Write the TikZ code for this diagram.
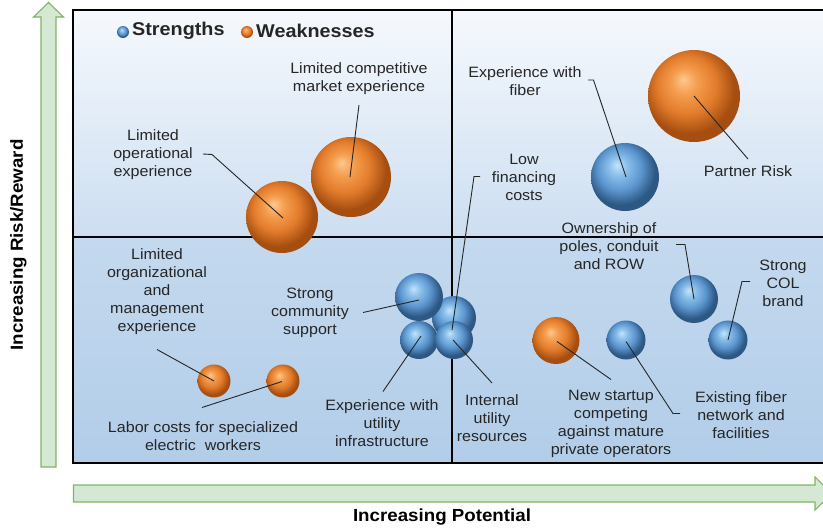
\documentclass[tikz,border=0pt]{standalone}
\usepackage{fontspec}
\setmainfont{Liberation Sans}[FakeStretch=1.07]
\usetikzlibrary{calc}
\definecolor{oHi}{HTML}{FDC88F}
\definecolor{oMid}{HTML}{F59D4E}
\definecolor{oBase}{HTML}{E27C2C}
\definecolor{oEdge}{HTML}{A64E10}
\definecolor{bHi}{HTML}{C3E3FA}
\definecolor{bMid}{HTML}{8ABFE9}
\definecolor{bBase}{HTML}{5C96CF}
\definecolor{bEdge}{HTML}{2D5884}
\definecolor{arrFill}{HTML}{D5E8D4}
\definecolor{arrLine}{HTML}{82B366}
\definecolor{txt}{HTML}{262626}
\definecolor{bgTop}{HTML}{F6F9FD}
\definecolor{bgMid}{HTML}{CCDEF1}
\definecolor{bgMidB}{HTML}{C4D9EE}
\definecolor{bgBot}{HTML}{B2CDE9}
\pgfdeclareradialshading{ballO}{\pgfpoint{-6bp}{9bp}}{color(0bp)=(oHi); color(7bp)=(oMid); color(16bp)=(oBase); color(25bp)=(oEdge); color(50bp)=(oEdge)}
\pgfdeclareradialshading{ballB}{\pgfpoint{-6bp}{9bp}}{color(0bp)=(bHi); color(7bp)=(bMid); color(16bp)=(bBase); color(25bp)=(bEdge); color(50bp)=(bEdge)}
\tikzset{
  sph/.style={circle, inner sep=0pt, minimum size=#1, shade},
  orb/.style={sph=#1, shading=ballO},
  blb/.style={sph=#1, shading=ballB},
  lbl/.style={align=center, text=txt, inner sep=0pt, font=\fontsize{15}{18}\selectfont},
  lead/.style={draw=txt, line width=0.9pt},
  axis/.style={font=\fontsize{17.5}{20}\selectfont\bfseries, text=black, inner sep=0pt},
  legtxt/.style={font=\fontsize{18.5}{21}\selectfont\bfseries, text=txt, inner sep=0pt},
  arrowshape/.style={fill=arrFill, draw=arrLine, line width=1.1pt},
  frame/.style={draw=black, line width=1.8pt}
}
\begin{document}
\begin{tikzpicture}[x=1pt,y=-1pt]
\useasboundingbox (0,0) rectangle (823,531);
\clip (0,0) rectangle (823,531);
% background
\shade[top color=bgTop, bottom color=bgMid] (73,10) rectangle (824,237);
\shade[top color=bgMidB, bottom color=bgBot] (73,237) rectangle (824,463);
\draw[frame] (73,10) rectangle (824,463);
\draw[frame] (73,237) -- (824,237);
\draw[frame] (452,10) -- (452,463);
% axis arrows
\draw[arrowshape] (41,467) -- (41,17) -- (33.5,17) -- (48.5,2.5) -- (63.5,17) -- (56,17) -- (56,467) -- cycle;
\draw[arrowshape] (73.5,485) -- (815,485) -- (815,477) -- (832,493.5) -- (815,510) -- (815,502) -- (73.5,502) -- cycle;
\node[axis, rotate=90] (ylab) at (18.5,245) {Increasing Risk/Reward};
\node[axis] (xlab) at (442,517) {Increasing Potential};
% legend
\node[blb=12pt] (legS) at (123,32) {};
\node[legtxt, anchor=west] (legSt) at (132,31) {Strengths};
\node[orb=12pt] (legW) at (247,32) {};
\node[legtxt, anchor=west] (legWt) at (256,31) {Weaknesses};
% spheres
\node[orb=72pt] (opx) at (282,217) {};
\node[orb=80pt] (cmp) at (351,177) {};
\node[orb=92pt] (prt) at (694,96) {};
\node[blb=68pt] (fib) at (625,177) {};
\node[blb=48pt] (own) at (694,299) {};
\node[blb=39pt] (col) at (728,340) {};
\node[blb=39pt] (exf) at (626,340) {};
\node[orb=47pt] (nst) at (556,340.5) {};
\node[blb=44pt] (lfc) at (454,318) {};
\node[blb=48pt] (scs) at (419,297) {};
\node[blb=38pt] (eui) at (419,340) {};
\node[blb=38pt] (iur) at (454,340) {};
\node[orb=33pt] (lom) at (214,381) {};
\node[orb=33pt] (lab) at (283,381) {};
% labels
\node[lbl] (tcmp) at (359,79) {Limited competitive\\market experience};
\node[lbl] (topx) at (153,155) {Limited\\operational\\experience};
\node[lbl] (tfib) at (525,81) {Experience with\\fiber};
\node[lbl] (tlfc) at (524,177) {Low\\financing\\costs};
\node[lbl] (tprt) at (748,171) {Partner Risk};
\node[lbl] (town) at (609,246) {Ownership of\\poles, conduit\\and ROW};
\node[lbl] (tcol) at (783,283) {Strong\\COL\\brand};
\node[lbl] (texf) at (741,415) {Existing fiber\\network and\\facilities};
\node[lbl] (tnst) at (611,423.5) {New startup\\competing\\against mature\\private operators};
\node[lbl] (tiur) at (492,418) {Internal\\utility\\resources};
\node[lbl] (teui) at (382,423) {Experience with\\utility\\infrastructure};
\node[lbl] (tscs) at (310,313) {Strong\\community\\support};
\node[lbl] (tlom) at (157,292) {Limited\\organizational\\and\\management\\experience};
\node[lbl] (tlab) at (203,436) {Labor costs for specialized\\electric\ \ workers};
% leader coordinates
\coordinate (a1) at (203,154); \coordinate (a2) at (212,154.5);
\coordinate (b1) at (359,105);
\coordinate (c1) at (588,80); \coordinate (c2) at (593.5,80);
\coordinate (d1) at (748,159);
\coordinate (e1) at (480,176.5); \coordinate (e2) at (474,176.5);
\coordinate (f1) at (676,244.5); \coordinate (f2) at (685,244.5);
\coordinate (g1) at (750,281.5); \coordinate (g2) at (742,281.5);
\coordinate (h1) at (673,413.5); \coordinate (h2) at (680,413.5);
\coordinate (i1) at (611,379.5);
\coordinate (j1) at (492,383);
\coordinate (k1) at (383,391.5);
\coordinate (l1) at (363,312.5);
\coordinate (m1) at (157,349.5);
\coordinate (n1) at (202,407.5);
% leaders
\draw[lead] (a1) -- (a2) -- ($(opx.center)+(1,1)$);
\draw[lead] (b1) -- ($(cmp.center)+(-1,0)$);
\draw[lead] (c1) -- (c2) -- ($(fib.center)+(1,0)$);
\draw[lead] (d1) -- (prt.center);
\draw[lead] (e1) -- (e2) -- ($(lfc.center)+(-2,12)$);
\draw[lead] (f1) -- (f2) -- (own.center);
\draw[lead] (g1) -- (g2) -- (col.center);
\draw[lead] (h2) -- (h1) -- ($(exf.center)+(0,1.5)$);
\draw[lead] (i1) -- ($(nst.center)+(1,1)$);
\draw[lead] (j1) -- ($(iur.center)+(-1,0)$);
\draw[lead] (k1) -- ($(eui.center)+(2,-4)$);
\draw[lead] (l1) -- ($(scs.center)+(0,3)$);
\draw[lead] (m1) -- (lom.center);
\draw[lead] (n1) -- ($(lab.center)+(-1,0.5)$);
\end{tikzpicture}
\end{document}
